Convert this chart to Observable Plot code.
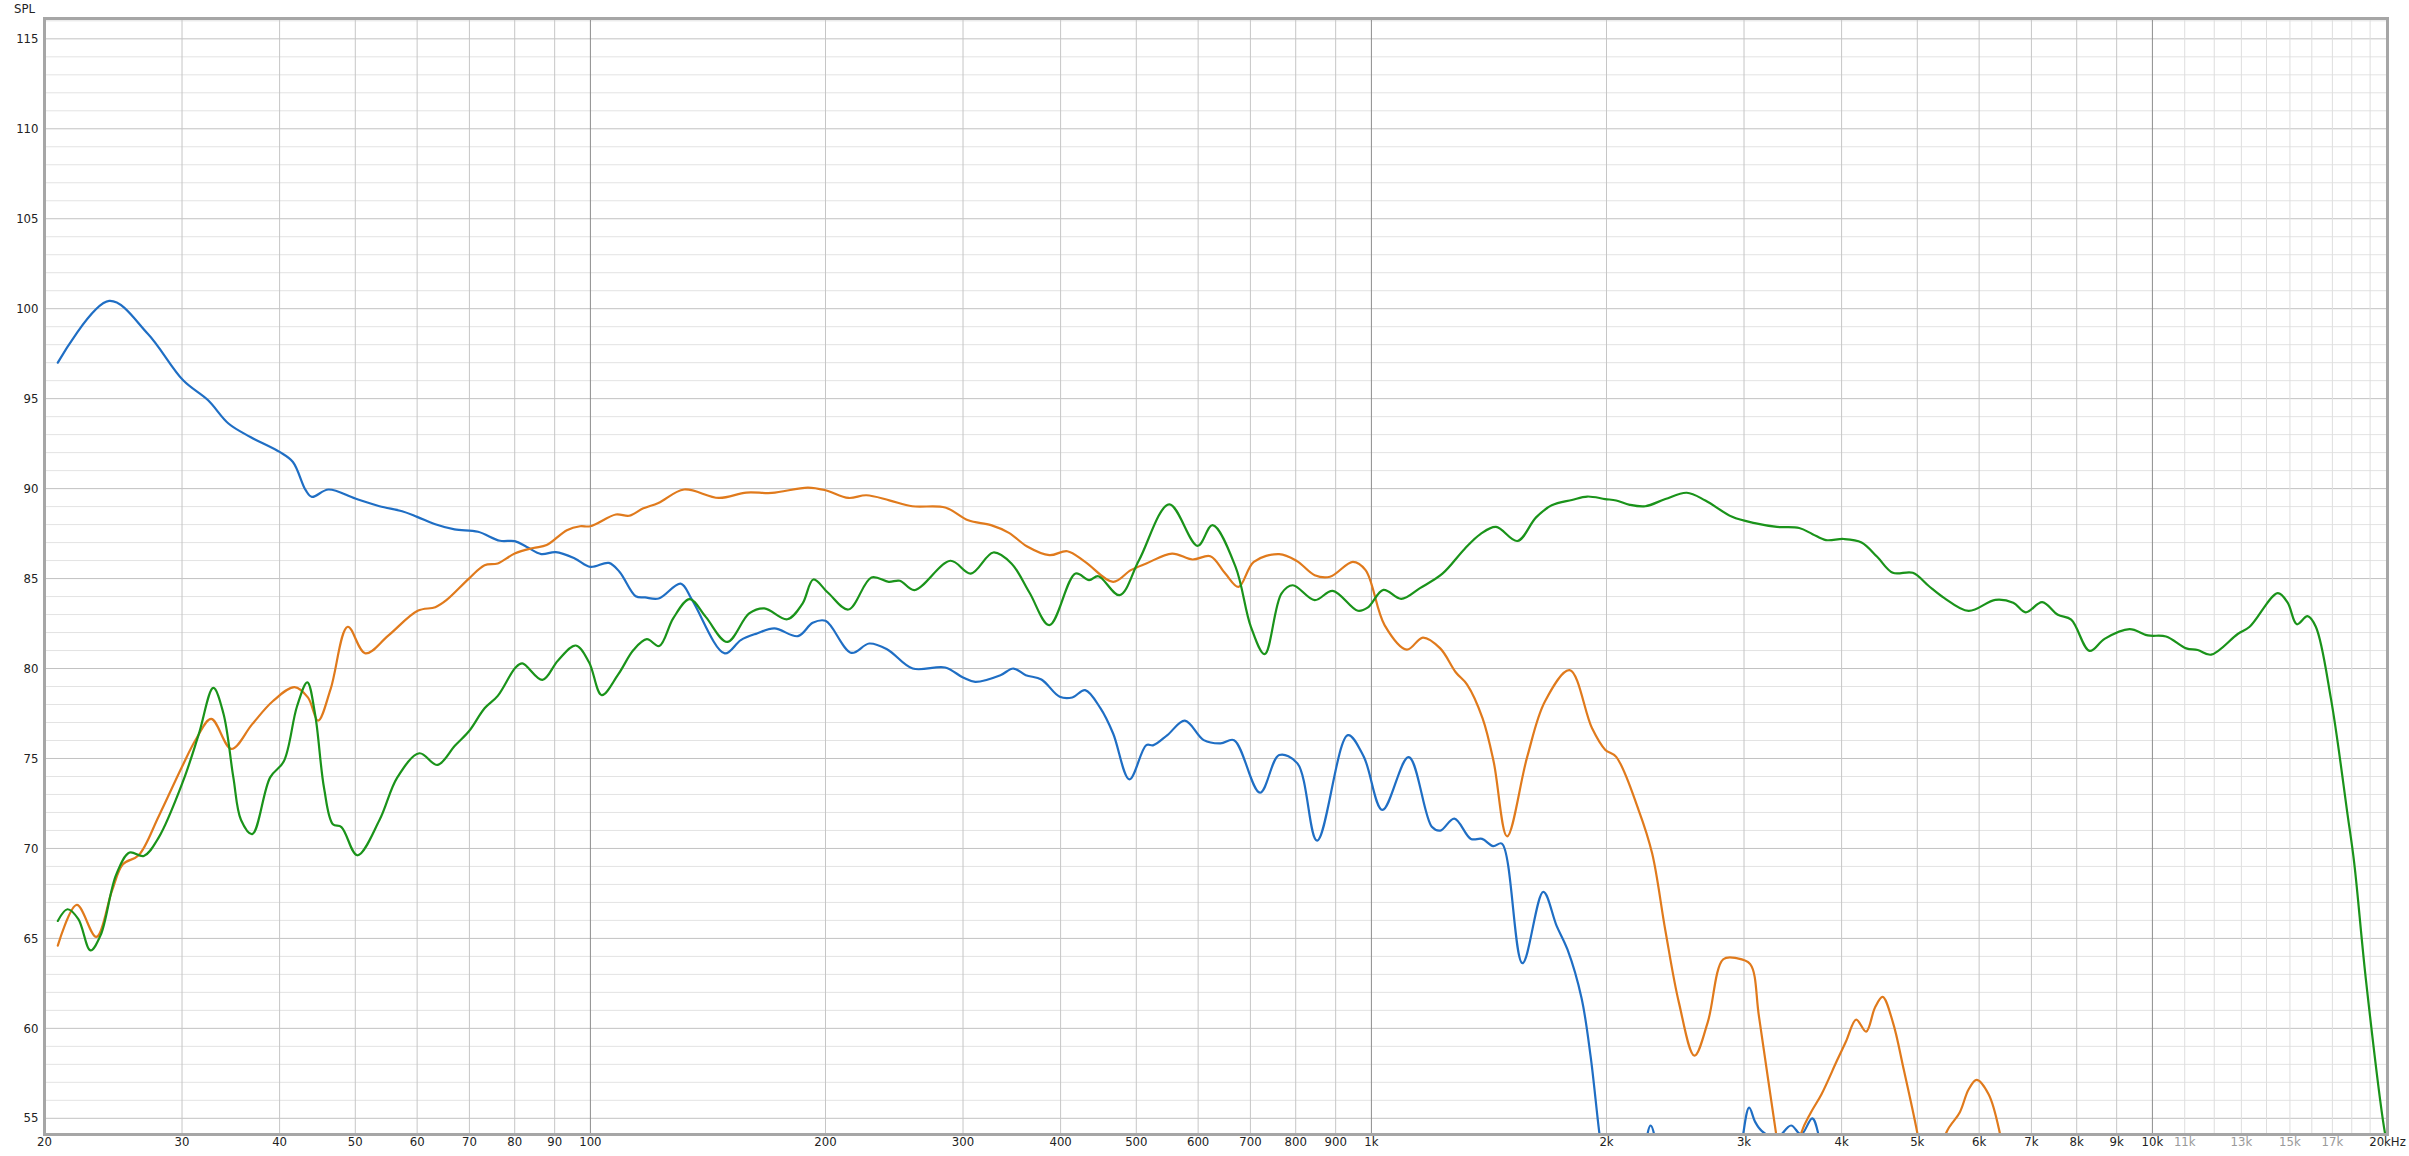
<!DOCTYPE html>
<html>
<head>
<meta charset="utf-8">
<script src="https://cdn.jsdelivr.net/npm/d3@7"></script>
<script src="https://cdn.jsdelivr.net/npm/@observablehq/plot@0.6"></script>
<style>
  html, body { margin: 0; padding: 0; background: #ffffff; }
  #chart { position: relative; width: 2409px; height: 1156px; }
  #spl { position: absolute; left: 14px; top: 1px; font: 13px 'Liberation Sans Narrow', 'DejaVu Sans Condensed', 'Roboto', sans-serif; color: #222; }
</style>
</head>
<body>
<div id="chart"><div id="spl">SPL</div></div>
<script>
// ---- tick / grid values ----
const xTickValues = [20, 30, 40, 50, 60, 70, 80, 90, 100, 200, 300, 400, 500, 600, 700, 800, 900, 1000, 2000, 3000, 4000, 5000, 6000, 7000, 8000, 9000, 10000, 20000];
const xTickLabels = ["20", "30", "40", "50", "60", "70", "80", "90", "100", "200", "300", "400", "500", "600", "700", "800", "900", "1k", "2k", "3k", "4k", "5k", "6k", "7k", "8k", "9k", "10k", "20kHz"];
const xLightTickValues = [11000, 13000, 15000, 17000];
const xLightTickLabels = ["11k", "13k", "15k", "17k"];
const gridDecadeX = [100, 1000, 10000];
const gridX = [30, 40, 50, 60, 70, 80, 90, 200, 300, 400, 500, 600, 700, 800, 900, 2000, 3000, 4000, 5000, 6000, 7000, 8000, 9000];
const gridFineX = [11000, 12000, 13000, 14000, 15000, 16000, 17000, 18000, 19000];
const yTicks = [55, 60, 65, 70, 75, 80, 85, 90, 95, 100, 105, 110, 115];
const yMinor = [56, 57, 58, 59, 61, 62, 63, 64, 66, 67, 68, 69, 71, 72, 73, 74, 76, 77, 78, 79, 81, 82, 83, 84, 86, 87, 88, 89, 91, 92, 93, 94, 96, 97, 98, 99, 101, 102, 103, 104, 106, 107, 108, 109, 111, 112, 113, 114, 116];

// ---- series (frequency in Hz, SPL in dB) ----
const blueFreq = [20.8, 24.2, 27.1, 30.1, 32.4, 34.4, 36.7, 40, 41.6, 43.2, 44.0, 46.2, 50, 53.7, 57.4, 60, 63.3, 67, 71.8, 76.6, 80, 82.9, 86.5, 90.3, 95.5, 100, 105.6, 109, 114.3, 117.5, 122.3, 130.5, 135, 148.6, 155.8, 163.4, 172, 184.4, 192.6, 200, 215.8, 227.5, 240, 258.6, 284.6, 300, 311, 335, 348, 361, 378, 399, 414, 430, 450, 467, 490, 515, 526, 548, 577, 610, 641, 667, 720, 762, 804, 852, 933, 978, 1033, 1116, 1195, 1225, 1277, 1341, 1386, 1432, 1469, 1561, 1660, 1726, 1783, 1858, 1908, 1958, 2010, 2150, 2240, 2278, 2320, 2420, 2900, 2990, 3046, 3100, 3160, 3300, 3446, 3550, 3668, 3745, 3850];
const blueSpl = [97.0, 100.43, 98.62, 96.02, 94.91, 93.62, 92.87, 92.04, 91.48, 89.91, 89.54, 89.95, 89.45, 89.02, 88.74, 88.43, 88.02, 87.73, 87.60, 87.10, 87.08, 86.76, 86.36, 86.47, 86.12, 85.65, 85.87, 85.37, 84.02, 83.95, 83.89, 84.72, 83.8, 80.84, 81.58, 81.95, 82.23, 81.8, 82.54, 82.65, 80.87, 81.39, 81.06, 80.0, 80.06, 79.50, 79.26, 79.63, 80.0, 79.63, 79.39, 78.43, 78.39, 78.8, 77.78, 76.39, 73.84, 75.74, 75.74, 76.30, 77.1, 76.02, 75.84, 76.02, 73.1, 75.19, 74.73, 70.43, 76.3, 75.09, 72.14, 75.08, 71.2, 70.99, 71.66, 70.53, 70.53, 70.13, 70.27, 63.62, 67.59, 65.71, 64.37, 61.69, 58.48, 54.2, 50.5, 48, 53.4, 54.6, 53.4, 48, 48, 54.0, 55.59, 54.8, 54.3, 53.9, 54.6, 54.1, 55.0, 53.9, 50];

const orangeFreq = [20.8, 22.0, 23.3, 24.4, 25.2, 26.4, 28.0, 30, 31.3, 32.7, 34.7, 36.9, 39.2, 41.8, 43.5, 44.8, 46.5, 48.9, 51.5, 55.1, 60.1, 63.3, 65.4, 69.9, 73.2, 76.1, 80, 84.5, 87.9, 93.3, 97, 100, 107.8, 112.1, 116.7, 122.2, 131.8, 146, 158.4, 170.8, 189.9, 200, 214, 225.6, 241.4, 258.3, 284.6, 304.6, 325.8, 343.5, 362, 387, 408, 430, 467, 492, 515, 555.6, 590, 622, 650, 676, 707, 762, 803, 846, 885, 947, 983, 1040, 1110, 1164, 1225, 1283, 1326, 1388, 1434, 1492, 1583, 1668, 1794, 1916, 1992, 2058, 2198, 2288, 2379, 2476, 2592, 2696, 2822, 2936, 3055, 3136, 3296, 3420, 3553, 3648, 3770, 3946, 4053, 4176, 4300, 4414, 4514, 4652, 4806, 5000, 5200, 5446, 5666, 5816, 5956, 6170, 6376, 6600];
const orangeSpl = [64.6, 66.86, 65.08, 67.64, 69.12, 69.62, 71.78, 74.54, 76.11, 77.2, 75.53, 76.91, 78.18, 78.97, 78.38, 77.1, 78.87, 82.32, 80.84, 81.83, 83.21, 83.41, 83.8, 85.0, 85.74, 85.84, 86.39, 86.7, 86.86, 87.69, 87.91, 87.91, 88.56, 88.49, 88.89, 89.2, 89.95, 89.48, 89.78, 89.76, 90.06, 89.91, 89.48, 89.63, 89.35, 89.02, 88.95, 88.24, 87.97, 87.54, 86.8, 86.3, 86.52, 85.93, 84.82, 85.47, 85.84, 86.39, 86.06, 86.24, 85.28, 84.54, 85.93, 86.36, 85.97, 85.19, 85.1, 85.93, 85.47, 82.4, 81.05, 81.72, 81.12, 79.78, 79.11, 77.23, 74.82, 70.67, 75.09, 78.17, 79.91, 76.69, 75.49, 75.09, 72.15, 69.73, 65.44, 61.43, 58.48, 60.35, 63.84, 63.9, 63.57, 60.62, 54.2, 50, 54.2, 55.27, 56.34, 58.21, 59.28, 60.49, 59.82, 61.16, 61.75, 60.35, 57.68, 54.2, 50, 54.2, 55.32, 56.6, 57.14, 56.34, 54.2, 50];

const greenFreq = [20.8, 21.4, 22.1, 22.9, 23.6, 24.7, 25.7, 26.8, 28.0, 30.1, 31.5, 32.9, 33.9, 34.9, 35.7, 36.9, 38.9, 40.5, 42.1, 43.4, 44.4, 45.6, 46.8, 48.0, 50.3, 53.7, 56.6, 60.4, 63.7, 67.1, 69.9, 73.2, 76.1, 80.2, 81.8, 86.8, 90.9, 95.8, 99.6, 103.4, 108.5, 113.6, 118.1, 122.5, 127.7, 134, 140.5, 149.7, 159.7, 167, 178.7, 186.9, 193, 201.5, 214, 229, 241, 249, 260, 289, 307, 328, 346, 365, 387, 418, 435, 447, 476, 504, 551, 599, 626, 670, 701, 730, 767, 793, 846, 892, 961, 990, 1036, 1092, 1154, 1233, 1317, 1379, 1444, 1538, 1625, 1702, 1806, 1890, 1992, 2058, 2142, 2242, 2379, 2534, 2677, 2897, 3096, 3306, 3530, 3672, 3820, 4026, 4242, 4442, 4652, 4934, 5168, 5410, 5816, 6295, 6634, 6883, 7226, 7568, 7871, 8310, 8684, 9348, 9866, 10410, 11050, 11430, 11890, 12860, 13320, 14470, 14900, 15310, 15800, 16190, 16930, 17780, 18130, 18760, 19800, 20000];
const greenSpl = [65.97, 66.62, 66.07, 64.33, 65.18, 68.53, 69.77, 69.58, 70.6, 73.75, 76.31, 78.92, 77.49, 73.95, 71.58, 70.8, 73.95, 74.84, 77.89, 79.23, 77.49, 73.36, 71.35, 71.19, 69.62, 71.58, 73.95, 75.29, 74.64, 75.72, 76.51, 77.79, 78.48, 80.06, 80.29, 79.37, 80.45, 81.28, 80.35, 78.52, 79.66, 81.04, 81.63, 81.25, 82.8, 83.86, 82.87, 81.48, 83.06, 83.34, 82.74, 83.61, 84.95, 84.21, 83.28, 85.06, 84.82, 84.88, 84.36, 85.99, 85.28, 86.45, 85.84, 84.21, 82.41, 85.28, 84.91, 85.13, 84.08, 86.02, 89.12, 86.82, 87.97, 85.65, 82.32, 80.8, 84.17, 84.63, 83.8, 84.32, 83.21, 83.4, 84.37, 83.87, 84.47, 85.27, 86.66, 87.47, 87.87, 87.09, 88.4, 89.07, 89.37, 89.56, 89.42, 89.34, 89.1, 89.02, 89.42, 89.77, 89.34, 88.43, 88.08, 87.87, 87.81, 87.47, 87.14, 87.2, 87.01, 86.21, 85.32, 85.32, 84.6, 83.93, 83.2, 83.82, 83.66, 83.12, 83.69, 82.99, 82.72, 80.98, 81.65, 82.19, 81.84, 81.78, 81.12, 81.03, 80.77, 81.92, 82.32, 84.19, 83.66, 82.46, 82.91, 82.32, 78.31, 71.87, 69.2, 62.77, 54.47, 53.5];

const seriesColors = {blue: "#1f6ec4", orange: "#e07a1c", green: "#1a931a"};

function toRows(freqs, spls) { return freqs.map((f, i) => ({f, db: spls[i]})); }
const blueRows = toRows(blueFreq, blueSpl);
const orangeRows = toRows(orangeFreq, orangeSpl);
const greenRows = toRows(greenFreq, greenSpl);
const xLabelRows = xTickValues.map((v, i) => ({v, label: xTickLabels[i]}));
const xLightRows = xLightTickValues.map((v, i) => ({v, label: xLightTickLabels[i]}));

const font = "'Liberation Sans Narrow', 'DejaVu Sans Condensed', 'Roboto', sans-serif";

const chart = Plot.plot({
  width: 2409,
  height: 1156,
  marginLeft: 44,
  marginRight: 22,
  marginTop: 18,
  marginBottom: 22,
  style: {fontFamily: font, fontSize: "13px", background: "#ffffff", overflow: "visible"},
  x: {type: "log", domain: [20, 20000], axis: null},
  y: {domain: [54.1, 116.13], axis: null},
  marks: [
    Plot.ruleY(yMinor, {stroke: "#e3e3e3", strokeWidth: 1}),
    Plot.ruleY(yTicks, {stroke: "#c2c2c2", strokeWidth: 1}),
    Plot.ruleX(gridFineX, {stroke: "#dedede", strokeWidth: 1}),
    Plot.ruleX(gridX, {stroke: "#c6c6c6", strokeWidth: 1}),
    Plot.ruleX(gridDecadeX, {stroke: "#8c8c8c", strokeWidth: 1}),
    Plot.line(blueRows, {x: "f", y: "db", stroke: seriesColors.blue, strokeWidth: 2.2, curve: "catmull-rom", clip: true}),
    Plot.line(orangeRows, {x: "f", y: "db", stroke: seriesColors.orange, strokeWidth: 2.2, curve: "catmull-rom", clip: true}),
    Plot.line(greenRows, {x: "f", y: "db", stroke: seriesColors.green, strokeWidth: 2.2, curve: "catmull-rom", clip: true}),
    Plot.frame({stroke: "#a6a6a6", strokeWidth: 3}),
    Plot.text(yTicks, {x: 20, y: d => d, text: d => String(d), textAnchor: "end", dx: -6, fill: "#222", fontSize: 13}),
    Plot.text(xLabelRows, {x: "v", text: "label", frameAnchor: "bottom", dy: 11, fill: "#222", fontSize: 13}),
    Plot.text(xLightRows, {x: "v", text: "label", frameAnchor: "bottom", dy: 11, fill: "#9a9a9a", fontSize: 13})
  ]
});

document.getElementById("chart").appendChild(chart);
</script>
</body>
</html>
